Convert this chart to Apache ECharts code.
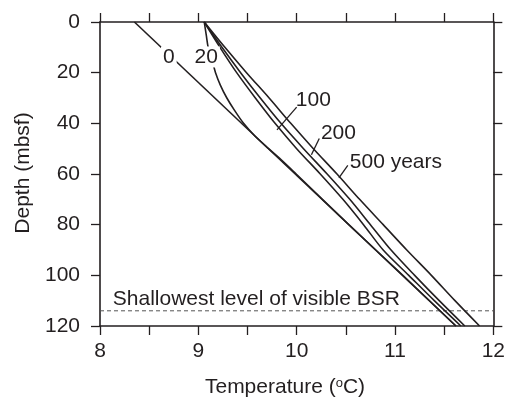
<!DOCTYPE html>
<html><head><meta charset="utf-8">
<script src="https://cdn.jsdelivr.net/npm/echarts/dist/echarts.min.js"></script>
<style>html,body{margin:0;padding:0;background:#fff}#c{width:508px;height:397px}</style>
</head><body><div id="c"></div>
<script>
// ---- data (temperature in degC vs depth in mbsf) ----
const depth0 = [0, 120];
const temp0  = [8.35, 11.62];
const depth20 = [0, 5, 10, 15, 20, 25, 30, 35, 40, 45, 50, 55, 60, 80, 100, 120];
const temp20  = [9.06, 9.08, 9.10, 9.14, 9.175, 9.225, 9.29, 9.37, 9.46, 9.575, 9.715, 9.86, 9.995, 10.53, 11.08, 11.62];
const depthLong = [0, 10, 20, 30, 40, 50, 60, 70, 80, 90, 100, 110, 120];
const temp100 = [9.06, 9.22, 9.39, 9.58, 9.78, 10.00, 10.24, 10.47, 10.68, 10.88, 11.14, 11.40, 11.67];
const temp200 = [9.06, 9.24, 9.43, 9.63, 9.84, 10.07, 10.31, 10.54, 10.75, 10.96, 11.20, 11.45, 11.71];
const temp500 = [9.06, 9.27, 9.49, 9.72, 9.94, 10.17, 10.41, 10.64, 10.88, 11.12, 11.37, 11.61, 11.86];
const bsrDepth = 114;
const curveNames = ['0', '20', '100', '200', '500 years'];
const bsrText = 'Shallowest level of visible BSR';
const xTitle = 'Temperature ({s|o}C)';
const yTitle = 'Depth (mbsf)';

// annotation anchors (data coords) kept separate from values
const labelAt = [[8.70, 13.8], [9.08, 13.8], [10.17, 30.8], [10.425, 43.7], [10.52, 55.4]];
const labelAlign = ['center', 'center', 'center', 'center', 'left'];
const leaders = [null, null, [[9.80, 42.6], [10.00, 33.6]], [[10.15, 52.4], [10.23, 46.0]], [[10.43, 61.5], [10.52, 56.6]]];
const bsrTextAt = [8.13, 109.6];

const INK = '#231f20';
const FONT = 'Liberation Sans, Arial, sans-serif';
const FS = 21;
const zip = (t, d) => t.map((v, i) => [v, d[i]]);

const chart = echarts.init(document.getElementById('c'), null, {renderer: 'canvas'});
const axisLine = {show: true, onZero: false, lineStyle: {color: INK, width: 1.6}};
const tick = {show: true, length: 9, lineStyle: {color: INK, width: 1.3}};
const option = {
  animation: false,
  backgroundColor: '#fff',
  grid: {left: 100, top: 22, right: 8, bottom: 71},
  xAxis: [
    {type: 'value', min: 8, max: 12, interval: 0.5, position: 'bottom', axisLine, axisTick: tick,
     splitLine: {show: false},
     axisLabel: {show: true, showMinLabel: true, showMaxLabel: true, margin: 15, fontSize: FS, color: INK, fontFamily: FONT,
       formatter: v => (Math.abs(v - Math.round(v)) < 1e-6 ? String(Math.round(v)) : '')}},
    {type: 'value', min: 8, max: 12, interval: 0.5, position: 'top', axisLine, axisTick: tick,
     splitLine: {show: false}, axisLabel: {show: false}}
  ],
  yAxis: [
    {type: 'value', inverse: true, min: 0, max: 120, interval: 20, position: 'left', axisLine, axisTick: tick,
     splitLine: {show: false},
     axisLabel: {show: true, showMinLabel: true, showMaxLabel: true, margin: 20, fontSize: FS, color: INK, fontFamily: FONT}},
    {type: 'value', inverse: true, min: 0, max: 120, interval: 20, position: 'right', axisLine, axisTick: tick,
     splitLine: {show: false}, axisLabel: {show: false}}
  ],
  series: [
    {name: curveNames[0], type: 'line', data: zip(temp0, depth0)},
    {name: curveNames[1], type: 'line', data: zip(temp20, depth20), smooth: 0.3},
    {name: curveNames[2], type: 'line', data: zip(temp100, depthLong), smooth: 0.3},
    {name: curveNames[3], type: 'line', data: zip(temp200, depthLong), smooth: 0.3},
    {name: curveNames[4], type: 'line', data: zip(temp500, depthLong), smooth: 0.3},
    {name: 'BSR', type: 'line', data: [[8, bsrDepth], [12, bsrDepth]],
     lineStyle: {color: '#555', width: 1, type: [4, 3]}, symbol: 'none', z: 1}
  ].map(s => Object.assign({symbol: 'none', lineStyle: {color: INK, width: 1.6}, silent: true}, s))
};
chart.setOption(option);

const px = p => chart.convertToPixel({xAxisIndex: 0, yAxisIndex: 0}, p);
const graphics = [];
curveNames.forEach((n, i) => {
  const p = px(labelAt[i]);
  graphics.push({type: 'text', x: p[0], y: p[1], z: 10,
    style: {text: n, font: FS + 'px ' + FONT, fill: INK, align: labelAlign[i], verticalAlign: 'middle',
      backgroundColor: (i < 2 ? '#fff' : 'transparent'), padding: [0, 2]}});
  if (leaders[i]) {
    const a = px(leaders[i][0]), b = px(leaders[i][1]);
    graphics.push({type: 'line', z: 10, shape: {x1: a[0], y1: a[1], x2: b[0], y2: b[1]},
      style: {stroke: INK, lineWidth: 1.3}});
  }
});
const bp = px(bsrTextAt);
graphics.push({type: 'text', x: bp[0], y: bp[1], z: 10,
  style: {text: bsrText, font: FS + 'px ' + FONT, fill: INK, align: 'left', verticalAlign: 'middle'}});
graphics.push({type: 'text', x: 285, y: 387, z: 10,
  style: {text: xTitle, font: FS + 'px ' + FONT, fill: INK, align: 'center', verticalAlign: 'middle',
    rich: {s: {fontSize: 13, fontFamily: FONT, verticalAlign: 'top', fill: INK}}}});
graphics.push({type: 'text', x: 23, y: 173, rotation: Math.PI / 2, z: 10,
  style: {text: yTitle, font: FS + 'px ' + FONT, fill: INK, align: 'center', verticalAlign: 'middle'}});
chart.setOption({graphic: graphics});
</script></body></html>
